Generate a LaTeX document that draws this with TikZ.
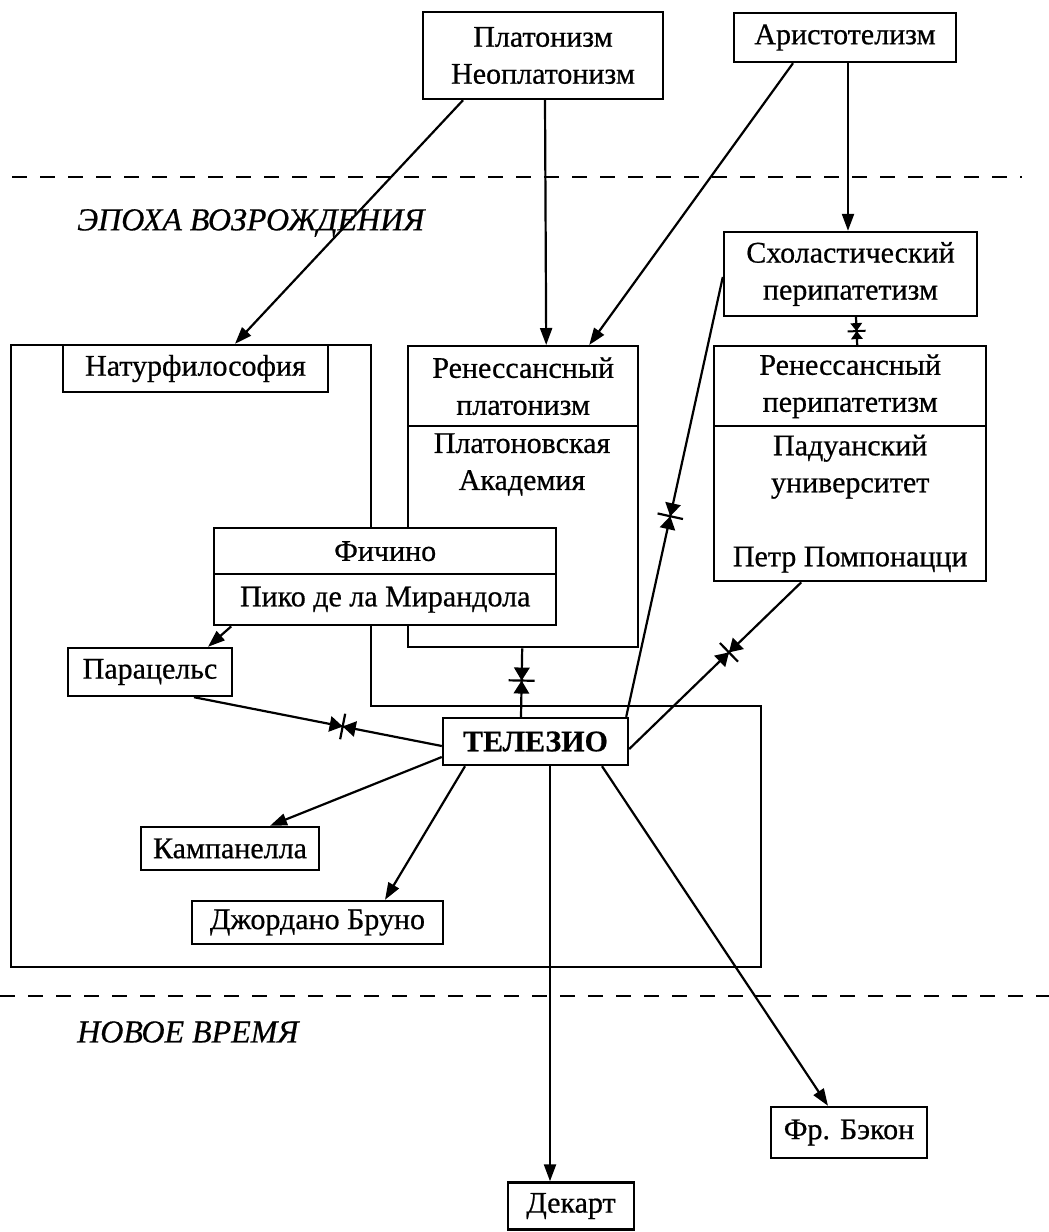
\documentclass[tikz,border=0pt]{standalone}
\usepackage{fontspec}
\setmainfont{Liberation Serif}[FakeBold=0.6]
\usetikzlibrary{arrows.meta,decorations.markings}
\newcommand\fsz{\fontsize{30}{37}\selectfont}
\begin{document}
\begin{tikzpicture}[x=1pt,y=-1pt,
  box/.style={draw,line width=2.4pt,fill=white,inner sep=0pt,align=center,font=\fsz},
  txt/.style={inner sep=0pt,align=center,font=\fsz},
  arr/.style={line width=2.2pt,-{Triangle[length=17pt,width=12pt]}},
  link/.style={line width=2.2pt},
  era/.style={font=\fontsize{32}{38}\selectfont\itshape,anchor=west,inner sep=0pt},
  dashline/.style={line width=2.4pt,dash pattern=on 15pt off 13pt},
  bowtie/.style={postaction={decorate},decoration={markings,mark=at position #1 with {
      \fill (0pt,0pt)--(-13pt,8pt)--(-13pt,-8pt)--cycle;
      \fill (0pt,0pt)--(13pt,8pt)--(13pt,-8pt)--cycle;
      \draw[line width=2.2pt] (0pt,-13pt)--(0pt,13pt);}}},
  smallbowtie/.style={postaction={decorate},decoration={markings,mark=at position #1 with {
      \fill (0pt,0pt)--(-8pt,6pt)--(-8pt,-6pt)--cycle;
      \fill (0pt,0pt)--(8pt,6pt)--(8pt,-6pt)--cycle;
      \draw[line width=2pt] (0pt,-9pt)--(0pt,9pt);}}}
]
\useasboundingbox (0,0) rectangle (1049,1232);

% era separators
\coordinate (d1a) at (12,177);
\coordinate (d1b) at (1022,177);
\coordinate (d2a) at (0,996);
\coordinate (d2b) at (1049,996);
\draw[dashline] (d1a) -- (d1b);
\draw[dashline] (d2a) -- (d2b);
\node[era] (renlabel) at (77,223) {ЭПОХА ВОЗРОЖДЕНИЯ};
\node[era] (newlabel) at (77,1032) {НОВОЕ ВРЕМЯ};

% big frame (natural philosophy)
\draw[line width=2.4pt] (11,345) -- (371,345) -- (371,706) -- (761,706) -- (761,967) -- (11,967) -- cycle;

% top boxes
\node[box,minimum width=240pt,minimum height=87pt] (plat) at (543,55.5) {Платонизм\\Неоплатонизм};
\node[box,minimum width=222pt,minimum height=49pt] (arist) at (845,37.5) {Аристотелизм};
\node[box,minimum width=253pt,minimum height=84pt] (schol) at (850.5,274) {Схоластический\\перипатетизм};

% natural philosophy label
\node[box,minimum width=265pt,minimum height=47pt] (natur) at (195.5,368.5) {Натурфилософия};

% renaissance platonism
\node[box,anchor=north west,minimum width=230pt,minimum height=80pt] (renplat) at (407,345) {Ренессансный\\платонизм};
\node[box,anchor=north west,minimum width=230pt,minimum height=221pt] (plakad) at (407,425) {};
\node[txt] (plakadtxt) at (522,464.5) {Платоновская\\Академия};

% renaissance peripatetism
\node[box,anchor=north west,minimum width=272pt,minimum height=80pt] (padtop) at (713,345) {Ренессансный\\перипатетизм};
\node[box,anchor=north west,minimum width=272pt,minimum height=155pt] (padlow) at (713,425) {Падуанский\\университет\\[37pt]Петр Помпонацци};

% Ficino / Pico
\node[box,anchor=north west,minimum width=342pt,minimum height=46pt] (fic) at (213,527) {Фичино};
\node[box,anchor=north west,minimum width=342pt,minimum height=51pt] (pico) at (213,573) {Пико де ла Мирандола};

% lower boxes
\node[box,minimum width=164pt,minimum height=48pt] (para) at (150,672) {Парацельс};
\node[box,minimum width=185pt,minimum height=47pt,font=\fsz\bfseries] (tel) at (535.5,741.5) {ТЕЛЕЗИО};
\node[box,minimum width=178pt,minimum height=43pt] (camp) at (230,848.5) {Кампанелла};
\node[box,minimum width=251pt,minimum height=43pt] (bruno) at (317.5,922.5) {Джордано Бруно};
\node[box,minimum width=156pt,minimum height=51pt] (bacon) at (849,1132.5) {Фр. Бэкон};
\node[box,minimum width=126pt,minimum height=47pt] (desc) at (571,1206) {Декарт};

% arrows from antiquity
\draw[arr] ([xshift=-80pt]plat.south) -- ([xshift=39.5pt]natur.north);
\draw[arr] ([xshift=2pt]plat.south) -- ([xshift=23pt]renplat.north);
\draw[arr] ([xshift=-52pt]arist.south) -- ([xshift=66pt]renplat.north);
\draw[arr] ([xshift=3pt]arist.south) -- ([xshift=-2.5pt]schol.north);

% mutual links
\draw[link,smallbowtie=0.5] ([xshift=5.5pt]schol.south) -- ([xshift=7pt]padtop.north);
\draw[link,bowtie=0.544] ([yshift=-3pt]schol.west) -- ([xshift=-3pt]tel.north east);
\draw[link,bowtie=0.42] ([xshift=-49pt]padlow.south) -- ([yshift=-7.5pt]tel.east);
\draw[link,bowtie=0.47] ([xshift=-1pt]plakad.south) -- ([xshift=-14.5pt]tel.north);
\draw[link,bowtie=0.6] ([xshift=44pt]para.south) -- ([yshift=-4.5pt]tel.west);

% influences
\draw[arr] ([xshift=-154pt]pico.south) -- ([xshift=58pt]para.north);
\draw[arr] ([yshift=-15.5pt]tel.west) -- ([xshift=40pt]camp.north);
\draw[arr] ([xshift=-70.5pt]tel.south) -- ([xshift=67.5pt]bruno.north);
\draw[arr] ([xshift=14.5pt]tel.south) -- ([xshift=-21pt]desc.north);
\draw[arr] ([xshift=66.5pt]tel.south) -- ([xshift=-21pt]bacon.north);
\end{tikzpicture}
\end{document}
